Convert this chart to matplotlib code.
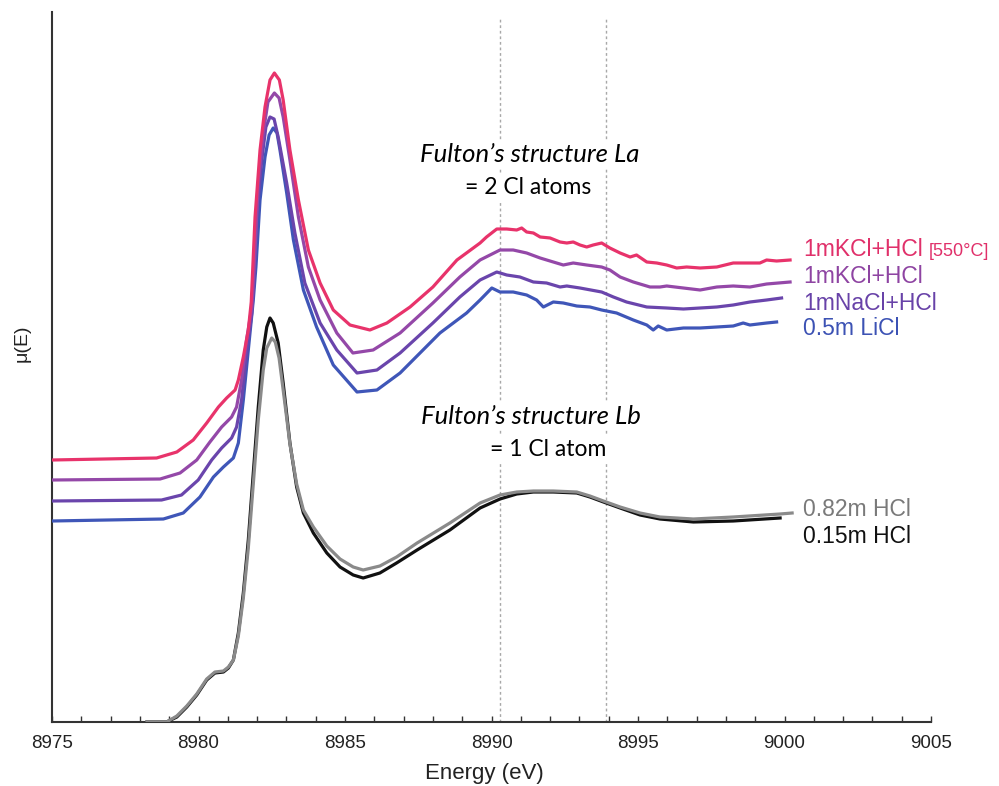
import numpy as np
import matplotlib.pyplot as plt
from matplotlib import font_manager
from matplotlib.ticker import MultipleLocator

# energies (eV) and stacked mu(E) values
e_kcl550 = [8975.0, 8978.57, 8979.26, 8979.82, 8980.28, 8980.68, 8980.96, 8981.25, 8981.36, 8981.53,
            8981.70, 8981.80, 8981.93, 8982.10, 8982.27, 8982.44, 8982.59, 8982.76, 8982.89, 8983.12,
            8983.41, 8983.75, 8984.15, 8984.60, 8985.17, 8985.85, 8986.43, 8987.22, 8988.0, 8988.82,
            8989.61, 8989.83, 8990.18, 8990.52, 8990.86, 8991.03, 8991.20, 8991.43, 8991.66, 8992.0,
            8992.34, 8992.57, 8992.79, 8993.02, 8993.25, 8993.47, 8993.76, 8994.04, 8994.39, 8994.73,
            8994.95, 8995.30, 8995.64, 8995.98, 8996.32, 8996.66, 8997.12, 8997.69, 8998.25, 8998.82,
            8999.16, 8999.39, 8999.73, 9000.19]
mu_kcl550 = [2.62, 2.64, 2.70, 2.82, 2.99, 3.15, 3.24, 3.32, 3.42, 3.65,
             3.92, 4.20, 5.05, 5.72, 6.15, 6.42, 6.49, 6.42, 6.22, 5.72,
             5.22, 4.72, 4.39, 4.12, 3.97, 3.92, 3.99, 4.15, 4.35, 4.62,
             4.79, 4.85, 4.93, 4.93, 4.92, 4.94, 4.90, 4.89, 4.85, 4.84,
             4.80, 4.79, 4.80, 4.77, 4.75, 4.77, 4.79, 4.74, 4.69, 4.65,
             4.67, 4.60, 4.59, 4.57, 4.54, 4.55, 4.54, 4.55, 4.59, 4.59,
             4.59, 4.62, 4.61, 4.62]

e_kcl = [8975.0, 8978.69, 8979.37, 8979.94, 8980.39, 8980.79, 8981.13, 8981.30, 8981.47, 8981.64,
         8981.82, 8981.93, 8982.04, 8982.21, 8982.37, 8982.59, 8982.75, 8982.89, 8983.12, 8983.41,
         8983.75, 8984.15, 8984.72, 8985.27, 8985.96, 8986.88, 8988.0, 8988.92, 8989.61, 8990.29,
         8990.74, 8991.20, 8991.66, 8992.11, 8992.45, 8992.79, 8993.25, 8993.76, 8994.04, 8994.39,
         8994.84, 8995.41, 8995.75, 8995.98, 8996.55, 8997.12, 8997.69, 8998.25, 8998.82, 8999.39,
         9000.19]
mu_kcl = [2.42, 2.43, 2.49, 2.62, 2.80, 2.95, 3.05, 3.15, 3.42, 3.82,
          4.15, 4.72, 5.39, 5.89, 6.20, 6.29, 6.24, 6.05, 5.62, 5.05,
          4.55, 4.22, 3.89, 3.69, 3.72, 3.89, 4.19, 4.45, 4.62, 4.72,
          4.72, 4.69, 4.64, 4.60, 4.57, 4.59, 4.57, 4.55, 4.52, 4.45,
          4.40, 4.35, 4.35, 4.36, 4.34, 4.32, 4.35, 4.36, 4.35, 4.38,
          4.40]

e_nacl = [8975.0, 8978.74, 8979.42, 8979.99, 8980.45, 8980.79, 8981.13, 8981.30, 8981.47, 8981.64,
          8981.82, 8981.90, 8981.98, 8982.16, 8982.30, 8982.44, 8982.58, 8982.72, 8983.01, 8983.29,
          8983.63, 8984.15, 8984.72, 8985.41, 8986.09, 8986.88, 8988.0, 8988.92, 8989.61, 8990.18,
          8990.52, 8990.97, 8991.43, 8991.88, 8992.34, 8992.57, 8993.02, 8993.76, 8994.16, 8994.61,
          8995.30, 8995.98, 8996.55, 8997.12, 8997.69, 8998.25, 8998.82, 8999.39, 8999.90]
mu_nacl = [2.21, 2.22, 2.27, 2.42, 2.62, 2.74, 2.84, 2.95, 3.22, 3.69,
           4.09, 4.45, 5.05, 5.62, 5.95, 6.05, 6.03, 5.85, 5.39, 4.89,
           4.39, 3.99, 3.72, 3.49, 3.52, 3.69, 3.99, 4.25, 4.42, 4.50,
           4.47, 4.45, 4.40, 4.39, 4.35, 4.36, 4.34, 4.30, 4.25, 4.20,
           4.15, 4.14, 4.13, 4.14, 4.15, 4.17, 4.20, 4.22, 4.24]

e_licl = [8975.0, 8978.80, 8979.48, 8980.05, 8980.51, 8980.85, 8981.19, 8981.36, 8981.53, 8981.70,
          8981.87, 8981.96, 8982.10, 8982.27, 8982.41, 8982.55, 8982.68, 8982.78, 8983.01, 8983.24,
          8983.58, 8984.03, 8984.60, 8985.41, 8986.09, 8986.88, 8988.24, 8989.15, 8989.61, 8990.01,
          8990.29, 8990.74, 8991.20, 8991.54, 8991.77, 8992.11, 8992.45, 8992.91, 8993.36, 8993.76,
          8994.27, 8994.84, 8995.30, 8995.52, 8995.69, 8995.98, 8996.55, 8997.12, 8997.69, 8998.25,
          8998.59, 8998.82, 8999.39, 8999.73]
mu_licl = [2.01, 2.03, 2.09, 2.25, 2.45, 2.55, 2.64, 2.79, 3.22, 3.72,
           4.22, 4.55, 5.22, 5.65, 5.87, 5.94, 5.89, 5.72, 5.29, 4.82,
           4.32, 3.95, 3.57, 3.30, 3.32, 3.49, 3.89, 4.09, 4.22, 4.34,
           4.30, 4.30, 4.27, 4.22, 4.15, 4.20, 4.19, 4.16, 4.15, 4.12,
           4.09, 4.02, 3.97, 3.92, 3.96, 3.92, 3.94, 3.94, 3.95, 3.96,
           3.99, 3.97, 3.99, 4.00]

e_hcl082 = [8978.24, 8978.91, 8979.26, 8979.60, 8979.94, 8980.28, 8980.56, 8980.85, 8981.02, 8981.19,
            8981.36, 8981.53, 8981.70, 8981.87, 8982.04, 8982.21, 8982.33, 8982.50, 8982.62, 8982.75,
            8982.89, 8983.12, 8983.35, 8983.58, 8983.92, 8984.38, 8984.83, 8985.28, 8985.62, 8986.19,
            8986.76, 8987.46, 8988.58, 8989.61, 8990.29, 8990.86, 8991.43, 8992.11, 8992.91, 8993.36,
            8993.82, 8994.39, 8995.07, 8995.75, 8996.89, 8998.25, 8999.85, 9000.26]
mu_hcl082 = [0.0, 0.0, 0.06, 0.16, 0.28, 0.43, 0.50, 0.51, 0.55, 0.62,
             0.86, 1.24, 1.74, 2.38, 3.02, 3.52, 3.74, 3.84, 3.80, 3.64,
             3.32, 2.78, 2.38, 2.12, 1.95, 1.76, 1.63, 1.55, 1.52, 1.56,
             1.65, 1.79, 1.99, 2.19, 2.27, 2.30, 2.31, 2.31, 2.30, 2.26,
             2.21, 2.15, 2.09, 2.05, 2.03, 2.05, 2.08, 2.09]

e_hcl015 = [8978.24, 8978.91, 8979.26, 8979.60, 8979.94, 8980.28, 8980.56, 8980.85, 8981.02, 8981.19,
            8981.36, 8981.53, 8981.70, 8981.87, 8982.04, 8982.21, 8982.33, 8982.44, 8982.55, 8982.72,
            8982.89, 8983.12, 8983.35, 8983.58, 8983.92, 8984.38, 8984.83, 8985.28, 8985.62, 8986.19,
            8986.76, 8987.46, 8988.58, 8989.61, 8990.29, 8990.86, 8991.43, 8992.11, 8992.91, 8993.36,
            8993.82, 8994.39, 8995.07, 8995.75, 8996.89, 8998.25, 8999.85]
mu_hcl015 = [0.0, 0.0, 0.05, 0.15, 0.27, 0.42, 0.49, 0.50, 0.54, 0.62,
             0.89, 1.29, 1.82, 2.49, 3.15, 3.72, 3.95, 4.04, 3.99, 3.79,
             3.39, 2.79, 2.35, 2.09, 1.89, 1.69, 1.55, 1.47, 1.44, 1.49,
             1.59, 1.72, 1.92, 2.14, 2.23, 2.28, 2.30, 2.30, 2.29, 2.25,
             2.20, 2.14, 2.07, 2.03, 2.00, 2.01, 2.04]

dash_e = [8990.3, 8993.9]

# narrow font for the axis text if it is there
try:
    font_manager.findfont('Liberation Sans Narrow', fallback_to_default=False)
    axis_font, tick_size, xlab_size = 'Liberation Sans Narrow', 16, 18
except ValueError:
    axis_font, tick_size, xlab_size = 'Liberation Sans', 13.5, 16

fig = plt.figure(figsize=(9.99, 7.86), dpi=100)
ax = fig.add_axes([52/999, 64/786, 879/999, 710/786])

for x in dash_e:
    ax.axvline(x, ymax=0.99, color='#a8a8a8', lw=1, ls=(0, (2, 2)), zorder=1)

lw = 2.3
ax.plot(e_hcl015, mu_hcl015, color='#111111', lw=lw, zorder=3)
ax.plot(e_hcl082, mu_hcl082, color='#8a8a8a', lw=lw, zorder=4)
ax.plot(e_licl, mu_licl, color='#3f56b8', lw=lw, zorder=3)
ax.plot(e_nacl, mu_nacl, color='#6a45ac', lw=lw, zorder=3)
ax.plot(e_kcl, mu_kcl, color='#9448a8', lw=lw, zorder=3)
ax.plot(e_kcl550, mu_kcl550, color='#e8336b', lw=lw, zorder=3)

ax.set_xlim(8975, 9005)
ax.set_ylim(0, 7.10)
ax.xaxis.set_major_locator(MultipleLocator(5))
ax.xaxis.set_minor_locator(MultipleLocator(1))
ax.tick_params(axis='x', which='both', direction='in', length=4, width=1, color='#333333',
               labelsize=tick_size, pad=9, labelcolor='#222222')
ax.set_yticks([])
for s in ['top', 'right']:
    ax.spines[s].set_visible(False)
for s in ['left', 'bottom']:
    ax.spines[s].set_color('#333333')
    ax.spines[s].set_linewidth(1.5)
for lab in ax.get_xticklabels():
    lab.set_family(axis_font)

fig.text(484/999, 1 - 773/786, 'Energy (eV)', fontsize=xlab_size, family=axis_font,
         ha='center', va='center', color='#222222')
fig.text(22/999, 1 - 343/786, 'μ(E)', rotation=90, fontsize=14, family='Liberation Sans',
         ha='center', va='center', color='#222222')

box = dict(facecolor='white', edgecolor='none', pad=2)
ax.text(8991.3, 5.67, 'Fulton\u2019s structure La', fontsize=18.5, style='italic', family='Lato',
        ha='center', va='center', bbox=box, zorder=5)
ax.text(8991.25, 5.34, '= 2 Cl atoms', fontsize=16.5, family='Lato',
        ha='center', va='center', bbox=box, zorder=5)
ax.text(8991.35, 3.06, 'Fulton\u2019s structure Lb', fontsize=18.5, style='italic', family='Lato',
        ha='center', va='center', bbox=box, zorder=5)
ax.text(8991.93, 2.73, '= 1 Cl atom', fontsize=16.5, family='Lato',
        ha='center', va='center', bbox=box, zorder=5)

lab_x = 9000.63
lab_size = 16.5
t = ax.text(lab_x, 4.66, '1mKCl+HCl', color='#e0306a', fontsize=lab_size, family='Liberation Sans',
            va='baseline', ha='left')
fig.canvas.draw()
bb = t.get_window_extent().transformed(ax.transData.inverted())
ax.text(bb.x1 + 0.2, 4.66, '[550°C]', color='#e0306a', fontsize=13, family='Liberation Sans',
        va='baseline', ha='left')
ax.text(lab_x, 4.39, '1mKCl+HCl', color='#8e44a2', fontsize=lab_size, family='Liberation Sans',
        va='baseline', ha='left')
ax.text(lab_x, 4.12, '1mNaCl+HCl', color='#6842a8', fontsize=lab_size, family='Liberation Sans',
        va='baseline', ha='left')
ax.text(lab_x, 3.87, '0.5m LiCl', color='#3c52b4', fontsize=lab_size, family='Liberation Sans',
        va='baseline', ha='left')
ax.text(lab_x, 2.06, '0.82m HCl', color='#7a7a7a', fontsize=lab_size, family='Liberation Sans',
        va='baseline', ha='left')
ax.text(lab_x, 1.79, '0.15m HCl', color='#111111', fontsize=lab_size, family='Liberation Sans',
        va='baseline', ha='left')

fig.savefig('out.png', dpi=100)
